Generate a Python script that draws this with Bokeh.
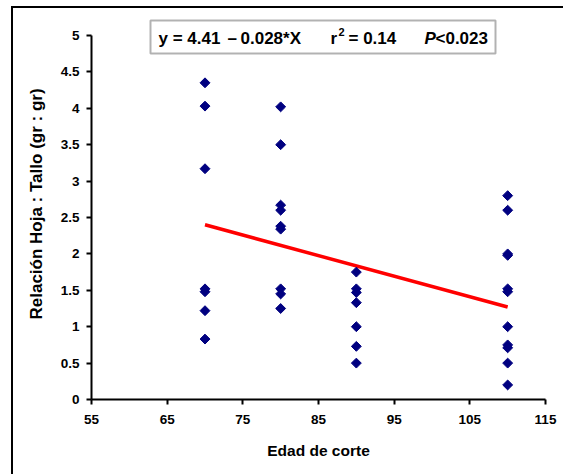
import math
from bokeh.plotting import figure
from bokeh.models import ColumnDataSource, FixedTicker, BoxAnnotation, Label
from bokeh.embed import file_html
from bokeh.resources import INLINE

# Data
edad_70 = [70] * 7
rel_70 = [4.35, 4.03, 3.17, 1.52, 1.48, 1.22, 0.83]
edad_80 = [80] * 9
rel_80 = [4.02, 3.50, 2.67, 2.60, 2.38, 2.34, 1.52, 1.45, 1.25]
edad_90 = [90] * 7
rel_90 = [1.75, 1.52, 1.47, 1.33, 1.00, 0.73, 0.50]
edad_110 = [110] * 11
rel_110 = [2.80, 2.60, 2.00, 1.98, 1.52, 1.48, 1.00, 0.75, 0.71, 0.50, 0.20]

reg_x = [70, 110]
reg_y = [2.40, 1.27]

x_ticks = [55, 65, 75, 85, 95, 105, 115]
y_ticks = [0, 0.5, 1, 1.5, 2, 2.5, 3, 3.5, 4, 4.5, 5]
y_tick_labels = ["0", "0.5", "1", "1.5", "2", "2.5", "3", "3.5", "4", "4.5", "5"]

x_all = edad_70 + edad_80 + edad_90 + edad_110
y_all = rel_70 + rel_80 + rel_90 + rel_110

FONT = "Liberation Sans"

# page geometry
OX, OY = 13, 8            # canvas origin on page (after border)
W, H = 563 - OX, 474 - OY
FL, FR = 91 - OX, 545 - OX  # frame left/right in canvas
FB = 399 - OY               # frame bottom in canvas (frame top at 0)
Y5 = 35 - OY                # canvas y of value 5
YTOP = 5.0 * FB / (FB - Y5)

p = figure(width=W, height=H, output_backend="svg", toolbar_location=None,
           x_range=(55, 115), y_range=(0, YTOP),
           frame_width=FR - FL, frame_height=FB,
           min_border_left=FL, min_border_top=0, min_border_right=W - FR,
           min_border_bottom=H - FB)
p.styles = {"border-left": "2px solid black", "border-top": "2px solid black",
            "margin-left": "11px", "margin-top": "6px"}
p.outline_line_color = None
p.grid.visible = False
p.background_fill_color = "white"
p.border_fill_color = "white"

def px2x(px):
    return 55 + (px - OX - FL) * 60.0 / (FR - FL)

def px2y(py):
    return (FB - (py - OY)) * 5.0 / (FB - Y5)

for ax in (p.xaxis[0], p.yaxis[0]):
    ax.axis_line_width = 2
    ax.major_tick_line_width = 2
    ax.major_tick_out = 5
    ax.major_tick_in = 0
    ax.minor_tick_line_color = None
    ax.major_label_text_font = FONT
    ax.major_label_text_font_style = "bold"
    ax.major_label_text_font_size = "13.5px"
    ax.major_label_text_color = "black"
    ax.axis_label_text_font = FONT
    ax.axis_label_text_font_style = "bold"
    ax.axis_label_text_color = "black"

p.xaxis.axis_label_text_font_size = "15.5px"
p.yaxis.axis_label_text_font_size = "17px"
p.yaxis.bounds = (0, 5)
p.xaxis.ticker = FixedTicker(ticks=x_ticks)
p.yaxis.ticker = FixedTicker(ticks=y_ticks)
p.yaxis.major_label_overrides = {t: l for t, l in zip(y_ticks, y_tick_labels)}
p.xaxis.axis_label = "Edad de corte"
p.yaxis.axis_label = "Relación Hoja : Tallo (gr : gr)"
p.xaxis.major_label_standoff = 10
p.xaxis.axis_label_standoff = 15
p.yaxis.major_label_standoff = 7
p.yaxis.axis_label_standoff = 12

src = ColumnDataSource(dict(x=x_all, y=y_all))
p.line(reg_x, reg_y, line_color="#FF0000", line_width=3.5)
p.scatter("x", "y", source=src, marker="square", size=7, angle=math.pi / 4,
          fill_color="#000080", line_color="#000080")

# equation box
p.add_layout(BoxAnnotation(left=px2x(150), right=px2x(495), top=px2y(20), bottom=px2y(53),
                           fill_color="white", fill_alpha=1.0,
                           line_color="black", line_width=2))

def lab(px, py, txt, size="17px", style="bold"):
    p.add_layout(Label(x=px2x(px), y=px2y(py), text=txt, text_font=FONT,
                       text_font_style=style, text_font_size=size,
                       text_baseline="middle", text_align="left", text_color="black"))

TY = 38
lab(158, TY, "y = 4.41")
lab(227, TY, "–")
lab(240, TY, "0.028*X")
lab(330, TY, "r")
lab(338, TY - 7, "2", size="11px")
lab(348, TY, "= 0.14")
lab(424, TY, "P", style="bold italic")
lab(435, TY, "<0.023")

open("out.html", "w").write(file_html(p, INLINE))
